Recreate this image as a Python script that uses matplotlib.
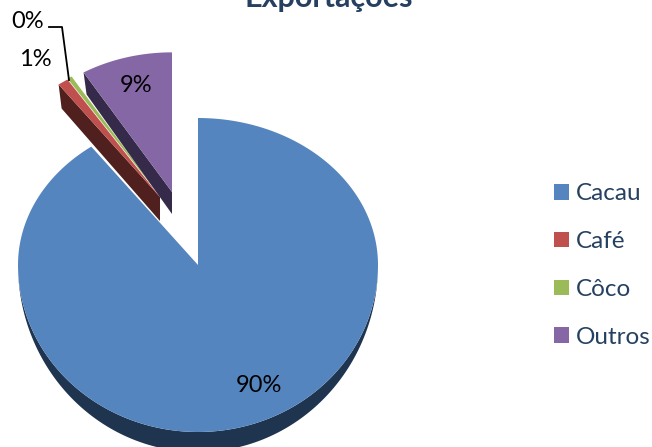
import numpy as np
import matplotlib
matplotlib.use("Agg")
import matplotlib.pyplot as plt
from matplotlib.patches import Polygon, Patch

# Dados
categories = ["Cacau", "Café", "Côco", "Outros"]
shares = [89.9, 1.0, 0.45, 8.65]

face_colors = ["#5585BF", "#C0504D", "#9BBB59", "#8667A5"]
side_colors = ["#1F344F", "#50201E", "#3F5020", "#362A4A"]

# posicao de cada fatia em pixels: apice x, apice y, escala, profundidade
apex_x = [198, 160, 160, 172]
apex_y = [265, 197, 196, 192]
scale = [1.0, 0.95, 0.95, 0.95]
depth = [20, 24, 0, 22]

RX, RY_TOP, RY_BOTTOM = 180, 147, 167

plt.rcParams["font.family"] = ["Lato", "DejaVu Sans"]

fig = plt.figure(figsize=(6.52, 4.47), dpi=100)
ax = fig.add_axes([0, 0, 1, 1])
ax.set_xlim(0, 652)
ax.set_ylim(447, 0)
ax.axis("off")


def rim(i, a):
    # a em graus, sentido horario a partir do topo
    t = np.radians(a)
    ry = np.where(np.cos(t) > 0, RY_TOP, RY_BOTTOM)
    x = apex_x[i] + scale[i] * RX * np.sin(t)
    y = apex_y[i] - scale[i] * ry * np.cos(t)
    return x, y


ends = np.cumsum(shares) * 3.6
starts = np.r_[0, ends[:-1]]

for i in range(len(shares)):
    a = np.linspace(starts[i], ends[i], 200)
    x, y = rim(i, a)
    if i == 0:
        # lateral visivel so na parte de baixo, mais funda no meio
        low = np.linspace(90, 270, 200)
        lx, ly = rim(i, low)
        ly2 = ly + depth[i] * np.abs(np.cos(np.radians(low)))
        side = np.r_[np.c_[lx, ly], np.c_[lx[::-1], ly2[::-1]]]
        ax.add_patch(Polygon(side, color=side_colors[i], lw=0))
    elif depth[i] > 0:
        # lateral da aresta esquerda da fatia
        ex, ey = rim(i, starts[i])
        side = [(apex_x[i], apex_y[i]), (ex, ey), (ex + 3, ey + depth[i]),
                (apex_x[i], apex_y[i] + depth[i])]
        ax.add_patch(Polygon(side, color=side_colors[i], lw=0))
    top = np.r_[[[apex_x[i], apex_y[i]]], np.c_[x, y]]
    ax.add_patch(Polygon(top, color=face_colors[i], lw=0))

ax.text(329, 7, "Exportações", ha="center", va="baseline", fontsize=22,
        fontweight="bold", color="#254061")

label_x = [259, 35, 28, 136]
label_y = [386, 59, 21, 85]
for i in range(len(shares)):
    ax.text(label_x[i], label_y[i], f"{round(shares[i])}%", ha="center",
            va="center", fontsize=17, color="black")

# linha de chamada do 0%
ax.plot([49, 62, 69], [27, 27, 80], color="black", lw=1.3)

handles = [Patch(facecolor=c, edgecolor="none") for c in face_colors]
ax.legend(handles, categories, loc="center left", bbox_to_anchor=(0.85, 0.406),
          frameon=False, fontsize=17.5, labelcolor="#254061", handlelength=0.61,
          handleheight=0.61, handletextpad=0.27, labelspacing=1.1,
          borderpad=0, borderaxespad=0)

fig.savefig("out.png", dpi=100)
